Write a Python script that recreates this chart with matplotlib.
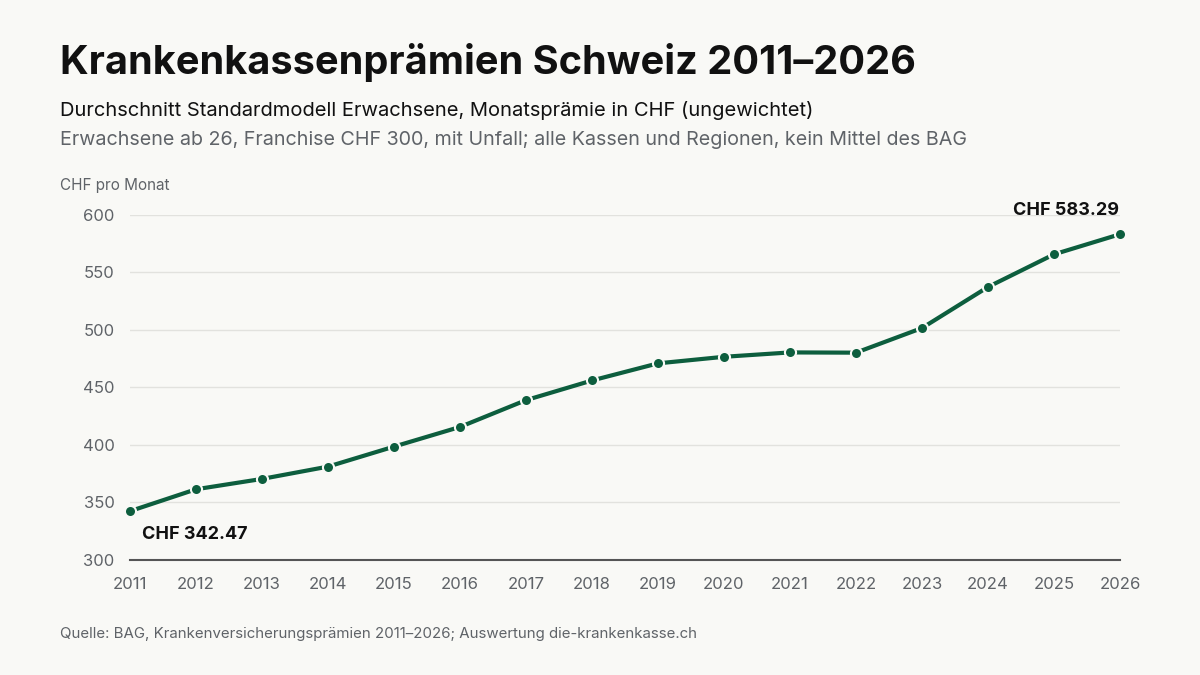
import matplotlib
matplotlib.use("Agg")
import matplotlib.pyplot as plt

# data
years = list(range(2011, 2027))
praemie = [342.47, 361.5, 370.5, 381.2, 398.6, 415.7, 439.0, 456.1,
           471.0, 476.7, 480.5, 480.3, 501.7, 537.4, 565.8, 583.29]
y_ticks = [300, 350, 400, 450, 500, 550, 600]

BG = "#f9f9f6"
GREEN = "#0d5e3e"
GREY = "#5f6368"
DARK = "#111111"

plt.rcParams["font.family"] = ["Inter", "DejaVu Sans"]

fig = plt.figure(figsize=(12, 6.75), dpi=100, facecolor=BG)
ax = fig.add_axes([130 / 1200, 1 - 560 / 675, 990 / 1200, 345 / 675])
ax.set_facecolor(BG)

ax.plot(years, praemie, color=GREEN, lw=3, marker="o", ms=8,
        mfc=GREEN, mec=BG, mew=1.5, clip_on=False, zorder=3)

ax.set_xlim(2011, 2026)
ax.set_ylim(300, 600)
ax.set_xticks(years)
ax.set_yticks(y_ticks)
ax.tick_params(axis="both", length=0, labelsize=12, labelcolor=GREY)
ax.tick_params(axis="x", pad=12)
ax.tick_params(axis="y", pad=11)
ax.grid(axis="y", color="#e2e2de", lw=1)
ax.set_axisbelow(True)
for s in ["top", "right", "left"]:
    ax.spines[s].set_visible(False)
ax.spines["bottom"].set_color("#555555")
ax.spines["bottom"].set_linewidth(1.5)

# end labels
ax.annotate(f"CHF {praemie[0]:.2f}", (years[0], praemie[0]), xytext=(9, -17),
            textcoords="offset points", fontsize=13, fontweight="bold",
            color=DARK, ha="left", va="center")
ax.annotate(f"CHF {praemie[-1]:.2f}", (years[-1], praemie[-1]), xytext=(-1, 17),
            textcoords="offset points", fontsize=13, fontweight="bold",
            color=DARK, ha="right", va="center")

# titles and notes
fig.text(60 / 1200, 1 - 62 / 675, "Krankenkassenprämien Schweiz 2011–2026",
         fontsize=28.6, fontweight="bold", color=DARK, va="center")
fig.text(60 / 1200, 1 - 110 / 675,
         "Durchschnitt Standardmodell Erwachsene, Monatsprämie in CHF (ungewichtet)",
         fontsize=14.5, color=DARK, va="center")
fig.text(60 / 1200, 1 - 140 / 675,
         "Erwachsene ab 26, Franchise CHF 300, mit Unfall; alle Kassen und Regionen, kein Mittel des BAG",
         fontsize=14.2, color=GREY, va="center")
fig.text(60 / 1200, 1 - 185 / 675, "CHF pro Monat", fontsize=11, color=GREY, va="center")
fig.text(60 / 1200, 1 - 634 / 675,
         "Quelle: BAG, Krankenversicherungsprämien 2011–2026; Auswertung die-krankenkasse.ch",
         fontsize=10.8, color=GREY, va="center")

fig.savefig("out.png", dpi=100, facecolor=BG)
